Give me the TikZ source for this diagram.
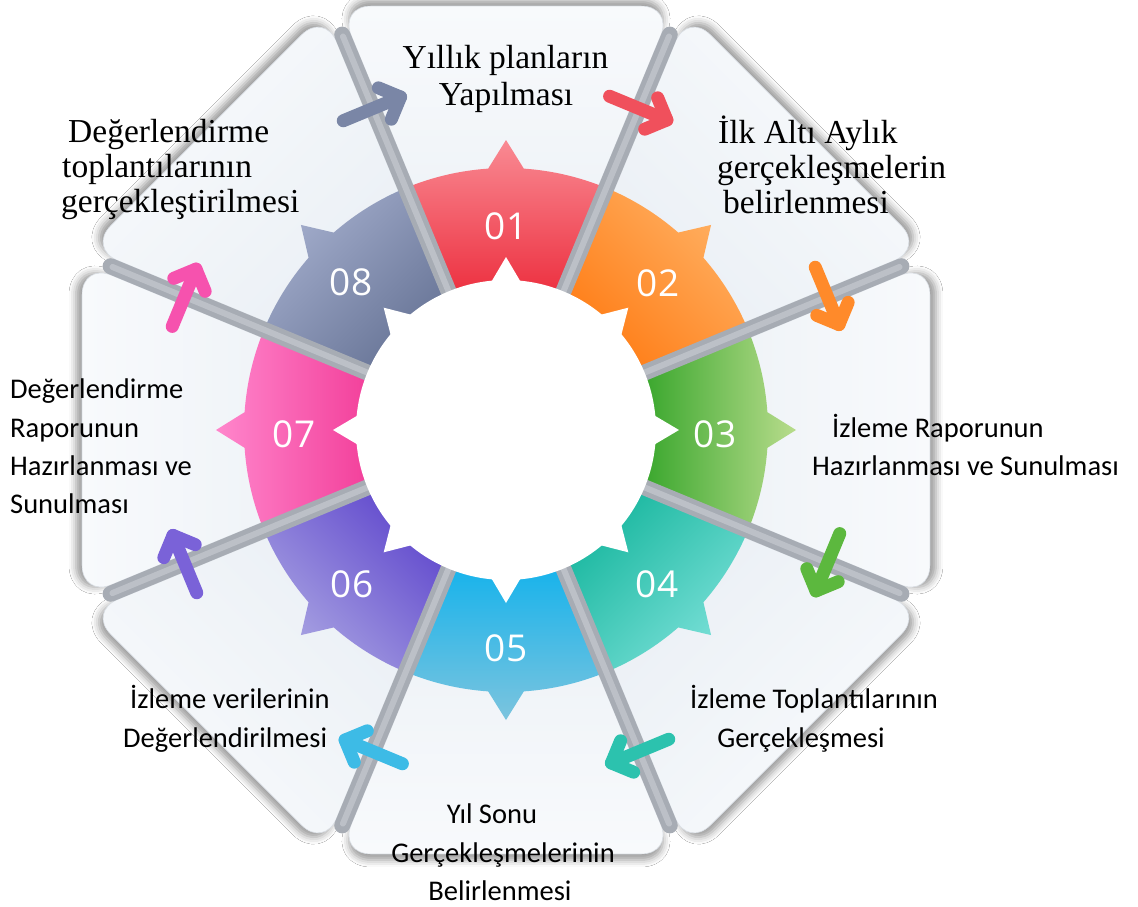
\documentclass[tikz,border=0pt]{standalone}
\usepackage{fontspec}
\setmainfont{Liberation Serif}
\newfontfamily\bodysans{Carlito}
\newfontfamily\numfont{Open Sans}
\usetikzlibrary{shadows.blur,calc}
\definecolor{c1d}{HTML}{EC2C3C}\definecolor{c1l}{HTML}{F98A93}
\definecolor{c2d}{HTML}{FF7A12}\definecolor{c2l}{HTML}{FFB062}
\definecolor{c3d}{HTML}{33A428}\definecolor{c3l}{HTML}{B8DC8C}
\definecolor{c4d}{HTML}{14B59C}\definecolor{c4l}{HTML}{7AE0D8}
\definecolor{c5d}{HTML}{12B2EC}\definecolor{c5l}{HTML}{7CC4DE}
\definecolor{c6d}{HTML}{5D44CC}\definecolor{c6l}{HTML}{A9A4E2}
\definecolor{c7d}{HTML}{F23C98}\definecolor{c7l}{HTML}{FF86CC}
\definecolor{c8d}{HTML}{657294}\definecolor{c8l}{HTML}{A3ADCC}
\definecolor{a1}{HTML}{F0505C}\definecolor{a2}{HTML}{FF8A2A}
\definecolor{a3}{HTML}{5CB83E}\definecolor{a4}{HTML}{2CC2AE}
\definecolor{a5}{HTML}{3DBBE6}\definecolor{a6}{HTML}{7A62D8}
\definecolor{a7}{HTML}{F652AE}\definecolor{a8}{HTML}{7A86A6}
\definecolor{panelin}{HTML}{E6ECF3}\definecolor{panelout}{HTML}{F8FAFC}
\definecolor{paneledge}{HTML}{D9DEE4}
\definecolor{barcol}{HTML}{A7ACB4}\definecolor{barhi}{HTML}{BCC0C7}
\begin{document}
\begin{tikzpicture}[x=1pt,y=1pt,
  serifline/.style={font=\fontsize{33.5}{40}\selectfont, inner sep=0pt},
  sansline/.style={font=\bodysans\fontsize{28.5}{39}\selectfont, inner sep=0pt},
  numlabel/.style={font=\numfont\fontsize{37}{40}\selectfont, text=white, inner sep=0pt},
  panel/.style={draw=paneledge, line width=0.6pt, rounded corners=32pt},
  sepbar/.style={line width=16pt, draw=barcol, line cap=round},
  sephi/.style={line width=6pt, draw=barhi, line cap=round},
  flowline/.style={line width=13pt, line cap=round, line join=round}]
\useasboundingbox (-506,-476) rectangle (632,430);
\fill[white] (-506,-476) rectangle (632,430);
% panels
\foreach \k in {1,...,8}{
  \pgfmathsetmacro\th{90-45*(\k-1)}
  \pgfmathsetmacro\sx{6*cos(\th)}
  \pgfmathsetmacro\sy{6*sin(\th)}
  \pgfmathsetmacro\sa{\th-90}
  \shade[panel, blur shadow={shadow xshift=\sx pt, shadow yshift=\sy pt, shadow blur radius=7pt, shadow opacity=40},
         top color=panelout, bottom color=panelin, shading angle=\sa]
    (\th:20.9) -- (\th-21.5:455.7) -- (\th+21.5:455.7) -- cycle;
}
% ring segments
\foreach \k/\dk/\lk in {1/c1d/c1l,2/c2d/c2l,3/c3d/c3l,4/c4d/c4l,5/c5d/c5l,6/c6d/c6l,7/c7d/c7l,8/c8d/c8l}{
  \pgfmathsetmacro\th{90-45*(\k-1)}
  \pgfmathsetmacro\a{\th-22.5}
  \pgfmathsetmacro\b{\th+22.5}
  \pgfmathsetmacro\ta{\th-3.9}
  \pgfmathsetmacro\tb{\th+3.9}
  \pgfmathsetmacro\sa{\th-90}
  \shade[top color=\lk, bottom color=\dk, shading angle=\sa]
    (\a:140) -- (\a:262) arc[start angle=\a, end angle=\ta, radius=262] -- (\th:290)
    -- (\tb:262) arc[start angle=\tb, end angle=\b, radius=262] -- (\b:140)
    arc[start angle=\b, end angle=\a, radius=140] -- cycle;
}
% separator bars
\foreach \ph in {22.5,67.5,...,337.5}{
  \draw[sepbar] (\ph:150) -- (\ph:428);
  \draw[sephi] (\ph:150) -- (\ph:426);
}
% white centre with teeth
\fill[white] (0,0) circle[radius=150];
\foreach \k in {1,...,8}{
  \pgfmathsetmacro\th{90-45*(\k-1)}
  \fill[white] (\th-6.5:146) -- (\th:173) -- (\th+6.5:146) -- cycle;
}
% flow arrows
\foreach \k/\col in {1/a1,2/a2,3/a3,4/a4,5/a5,6/a6,7/a7,8/a8}{
  \pgfmathsetmacro\ph{90-45*(\k-1)-22.5}
  \coordinate (m\k) at (\ph:348);
  \coordinate (s\k) at ($(m\k)+(\ph+90:32)$);
  \coordinate (e\k) at ($(m\k)+(\ph-90:30)$);
  \coordinate (ha\k) at ($(e\k)+(\ph+45:24)$);
  \coordinate (hb\k) at ($(e\k)+(\ph+135:24)$);
  \draw[flowline, draw=\col] (s\k) -- (e\k);
  \draw[flowline, draw=\col] (ha\k) -- (e\k) -- (hb\k);
}
% numbers
\node[numlabel] (n1) at (0,204) {01};
\node[numlabel] (n2) at (152,147) {02};
\node[numlabel] (n3) at (209,-4) {03};
\node[numlabel] (n4) at (151,-154) {04};
\node[numlabel] (n5) at (0,-218) {05};
\node[numlabel] (n6) at (-154,-154) {06};
\node[numlabel] (n7) at (-212,-4) {07};
\node[numlabel] (n8) at (-155,148) {08};
% texts
\node[serifline, anchor=base] (t1a) at (-0.5,362) {Yıllık planların};
\node[serifline, anchor=base] (t1b) at (0,325) {Yapılması};
\node[serifline, anchor=base west] (t2a) at (212,287) {İlk Altı Aylık};
\node[serifline, anchor=base west] (t2b) at (211,252) {gerçekleşmelerin};
\node[serifline, anchor=base west] (t2c) at (217,217) {belirlenmesi};
\node[sansline, anchor=base west] (t3a) at (326,-7) {İzleme Raporunun};
\node[sansline, anchor=base west] (t3b) at (306,-45) {Hazırlanması ve Sunulması};
\node[sansline, anchor=base] (t4a) at (308,-278) {İzleme Toplantılarının};
\node[sansline, anchor=base] (t4b) at (295,-317) {Gerçekleşmesi};
\node[sansline, anchor=base] (t5a) at (-14,-393) {Yıl Sonu};
\node[sansline, anchor=base] (t5b) at (-3,-432) {Gerçekleşmelerinin};
\node[sansline, anchor=base] (t5c) at (-6,-470) {Belirlenmesi};
\node[sansline, anchor=base west] (t6a) at (-376,-278) {İzleme verilerinin};
\node[sansline, anchor=base west] (t6b) at (-383,-317) {Değerlendirilmesi};
\node[sansline, anchor=base west] (t7a) at (-496,32) {Değerlendirme};
\node[sansline, anchor=base west] (t7b) at (-496,-7) {Raporunun};
\node[sansline, anchor=base west] (t7c) at (-496,-45) {Hazırlanması ve};
\node[sansline, anchor=base west] (t7d) at (-496,-83) {Sunulması};
\node[serifline, anchor=base west] (t8a) at (-438,288) {Değerlendirme};
\node[serifline, anchor=base west] (t8b) at (-444,253) {toplantılarının};
\node[serifline, anchor=base west] (t8c) at (-445,218) {gerçekleştirilmesi};
\end{tikzpicture}
\end{document}
